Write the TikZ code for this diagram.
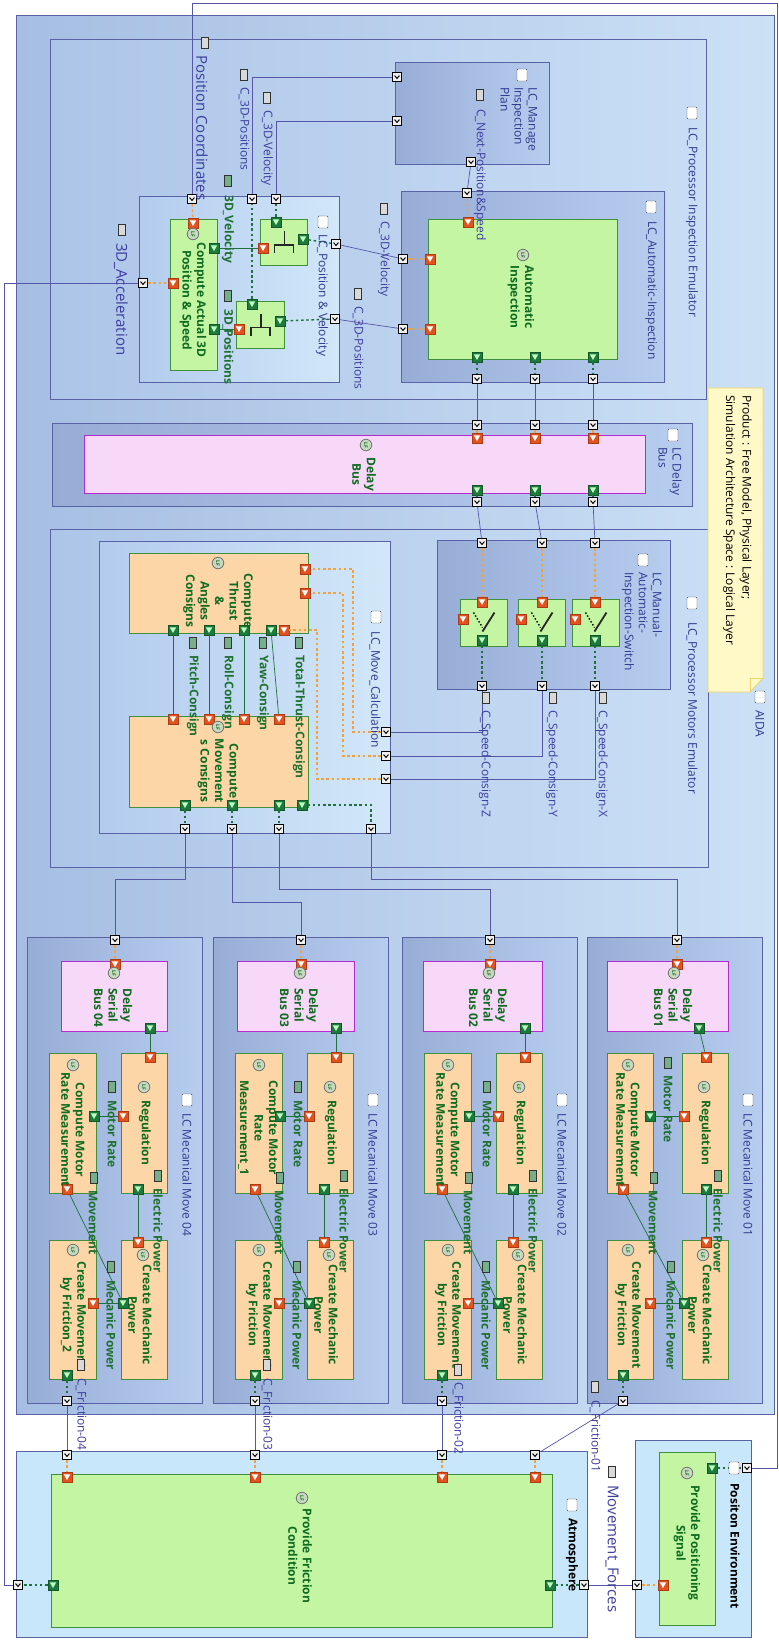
\documentclass[tikz,border=0pt]{standalone}
\usepackage{fontspec}
\setmainfont{Open Sans}
\usepackage{xcolor}
\usepackage{tikz}
\usetikzlibrary{positioning, fit}

\definecolor{aidaL}{HTML}{A6BEE2}
\definecolor{aidaR}{HTML}{CCE1F6}
\definecolor{procL}{HTML}{ADC5E8}
\definecolor{procR}{HTML}{C9DEF5}
\definecolor{lcL}{HTML}{98ADD6}
\definecolor{lcR}{HTML}{B7CDEF}
\definecolor{lightL}{HTML}{B3CCEE}
\definecolor{lightR}{HTML}{D2E7F9}
\definecolor{envFill}{HTML}{C9E7FA}
\definecolor{frameBlue}{HTML}{5A62A6}
\definecolor{fnGreen}{HTML}{C3F5A3}
\definecolor{fnOrange}{HTML}{FCD6A6}
\definecolor{fnPink}{HTML}{F7D8F9}
\definecolor{fnBorder}{HTML}{3F8F3F}
\definecolor{pinkBorder}{HTML}{B52ACF}
\definecolor{pinRed}{HTML}{E3521C}
\definecolor{pinGreen}{HTML}{1C7A3C}
\definecolor{lineBlue}{HTML}{5656A6}
\definecolor{dashOrange}{HTML}{F2A23A}
\definecolor{dashGreen}{HTML}{1F6F3F}
\definecolor{titleBlue}{HTML}{2F3A8F}
\definecolor{ceBlue}{HTML}{3D3DA0}
\definecolor{fnText}{HTML}{0F6B1F}
\definecolor{feText}{HTML}{1E7030}
\definecolor{noteFill}{HTML}{FFF9C8}
\definecolor{noteBorder}{HTML}{EFD46A}
\definecolor{lfFill}{HTML}{C9D9C0}

\tikzset{
  aidabox/.style={draw=frameBlue, line width=0.8pt, left color=aidaL, right color=aidaR, inner sep=0pt},
  procbox/.style={draw=frameBlue, line width=0.8pt, left color=procL, right color=procR, inner sep=0pt},
  lcbox/.style={draw=frameBlue, line width=0.8pt, left color=lcL, right color=lcR, inner sep=0pt},
  lclight/.style={draw=frameBlue, line width=0.8pt, left color=lightL, right color=lightR, inner sep=0pt},
  envbox/.style={draw=frameBlue, line width=0.8pt, fill=envFill, inner sep=0pt},
  fgreen/.style={draw=fnBorder, line width=0.8pt, fill=fnGreen, inner sep=0pt},
  forange/.style={draw=fnBorder, line width=0.8pt, fill=fnOrange, inner sep=0pt},
  fpink/.style={draw=pinkBorder, line width=0.8pt, fill=fnPink, inner sep=0pt},
  port/.style={draw=black, fill=black!6, line width=0.7pt, minimum size=9.5pt, inner sep=0pt,
    path picture={\draw[line width=1pt, shift={(path picture bounding box.center)}, rotate=#1]
      (-2.4pt,1.4pt) -- (0pt,-1.4pt) -- (2.4pt,1.4pt);}},
  port/.default=0,
  pinin/.style={draw=pinRed!75!black, line width=0.4pt, fill=pinRed, minimum size=10.5pt, inner sep=0pt,
    path picture={\fill[white, shift={(path picture bounding box.center)}, rotate=#1]
      (-3.2pt,2.6pt) -- (3.2pt,2.6pt) -- (0pt,-3pt) -- cycle;}},
  pinin/.default=0,
  pinout/.style={draw=pinGreen!70!black, line width=0.4pt, fill=pinGreen, minimum size=10.5pt, inner sep=0pt,
    path picture={\fill[green!25!white, shift={(path picture bounding box.center)}, rotate=#1]
      (-3.2pt,2.6pt) -- (3.2pt,2.6pt) -- (0pt,-3pt) -- cycle;}},
  pinout/.default=0,
  ce/.style={draw=lineBlue, line width=0.7pt},
  fe/.style={draw=dashGreen, line width=0.7pt},
  dashor/.style={draw=dashOrange, line width=1.4pt, dash pattern=on 2.6pt off 2.6pt},
  dashgr/.style={draw=dashGreen, line width=1.4pt, dash pattern=on 2.6pt off 2.6pt},
  cicon/.style={draw=black!70, fill=white, rounded corners=1pt, minimum width=10pt, minimum height=12pt, inner sep=0pt},
  ceicon/.style={draw=black!80, fill=black!15, minimum width=7pt, minimum height=11pt, inner sep=0pt},
  feicon/.style={draw=black!80, fill=pinGreen!60, minimum width=7pt, minimum height=11pt, inner sep=0pt},
  lf/.style={circle, draw=black!55, line width=0.8pt, fill=lfFill, minimum size=11.5pt, inner sep=0pt, rotate=-90,
    text=fnText, font=\bfseries\fontsize{5}{5}\selectfont},
  lctitle/.style={rotate=-90, anchor=west, inner sep=0pt, align=left, text=titleBlue,
    font=\fontsize{12}{14}\selectfont},
  celabel/.style={rotate=-90, anchor=west, inner sep=0pt, text=ceBlue, font=\fontsize{12}{14}\selectfont},
  biglabel/.style={rotate=-90, anchor=west, inner sep=0pt, text=ceBlue, font=\fontsize{15}{17}\selectfont},
  felabel/.style={rotate=-90, anchor=west, inner sep=0pt, text=feText, font=\bfseries\fontsize{12}{14}\selectfont},
  fntext/.style={rotate=-90, inner sep=0pt, align=center, text=fnText, font=\bfseries\fontsize{12}{14.5}\selectfont},
  envtitle/.style={rotate=-90, anchor=west, inner sep=0pt, font=\bfseries\fontsize{12}{14}\selectfont},
  symb/.style={line width=1.8pt, black!85}
}

\begin{document}
\begin{tikzpicture}[x=1pt, y=-1pt]
\path[use as bounding box, fill=white] (0,0) rectangle (779,1641);

% frames
\node[aidabox, fit={(16,15) (774,1414)}] (aida) {};
\node[procbox, fit={(50,39) (706,399)}] (pie) {};
\node[lclight, fit={(139,196) (339,382)}] (posvel) {};
\node[fgreen, fit={(170,219) (217,370)}] (fcomp) {};
\node[fgreen, fit={(260,219) (307,265)}] (muxv) {};
\node[fgreen, fit={(236,301) (284,348)}] (muxp) {};
\node[lcbox, fit={(395,62) (549,164)}] (manage) {};
\node[lcbox, fit={(401,191) (664,382)}] (autoins) {};
\node[fgreen, fit={(428,219) (617,359)}] (fautoins) {};
\node[lcbox, fit={(52,423) (692,506)}] (delaybus) {};
\node[fpink, fit={(84,435) (645,493)}] (fdelay) {};
\node[procbox, fit={(50,529) (708,867)}] (pme) {};
\node[lcbox, fit={(437,540) (670,689)}] (switchbox) {};
\node[fgreen, fit={(460,599) (507,646)}] (swz) {};
\node[fgreen, fit={(518,599) (565,646)}] (swy) {};
\node[fgreen, fit={(572,599) (619,646)}] (swx) {};
\node[lclight, fit={(99,541) (390,833)}] (movecalc) {};
\node[forange, fit={(129,553) (308,633)}] (fthrust) {};
\node[forange, fit={(129,716) (308,807)}] (fmovcons) {};

\draw[fill=noteFill, draw=noteBorder, line width=0.8pt] (708,388) -- (763,388) -- (763,678) -- (750,692) -- (708,692) -- cycle;
\draw[draw=noteBorder, line width=0.8pt] (750,692) -- (750,678) -- (763,678);

% mux and switch symbols
\draw[symb] ([shift={(1,-11)}]muxv.center) -- ([shift={(1,3)}]muxv.center)
  ([shift={(-9,11)}]muxv.center) |- ([shift={(10,3)}]muxv.center) -- ([shift={(10,11)}]muxv.center);
\draw[symb] ([shift={(1,-11)}]muxp.center) -- ([shift={(1,3)}]muxp.center)
  ([shift={(-9,11)}]muxp.center) |- ([shift={(10,3)}]muxp.center) -- ([shift={(10,11)}]muxp.center);
\draw[line width=1.4pt, dotted] ([shift={(-10,-10)}]swz.center) -- ([shift={(-1,5)}]swz.center);
\draw[symb] ([shift={(-1,9)}]swz.center) -- ([shift={(11,-10)}]swz.center);
\draw[line width=1.4pt, dotted] ([shift={(-10,-10)}]swy.center) -- ([shift={(-1,5)}]swy.center);
\draw[symb] ([shift={(-1,9)}]swy.center) -- ([shift={(11,-10)}]swy.center);
\draw[line width=1.4pt, dotted] ([shift={(-10,-10)}]swx.center) -- ([shift={(-1,5)}]swx.center);
\draw[symb] ([shift={(-1,9)}]swx.center) -- ([shift={(11,-10)}]swx.center);

% LC Mecanical Move 04
\node[lcbox, fit={(27,937) (202,1403)}] (mm4) {};
\node[fpink, fit={(61,961) (167,1031)}] (dsb4) {};
\node[forange, fit={(121,1053) (167,1193)}] (reg4) {};
\node[forange, fit={(49,1053) (96,1193)}] (cmr4) {};
\node[forange, fit={(121,1240) (167,1379)}] (cmp4) {};
\node[forange, fit={(49,1240) (96,1379)}] (cmf4) {};
% LC Mecanical Move 03
\node[lcbox, fit={(213,937) (388,1403)}] (mm3) {};
\node[fpink, fit={(237,961) (354,1031)}] (dsb3) {};
\node[forange, fit={(307,1053) (353,1193)}] (reg3) {};
\node[forange, fit={(235,1053) (282,1193)}] (cmr3) {};
\node[forange, fit={(307,1240) (353,1379)}] (cmp3) {};
\node[forange, fit={(235,1240) (282,1379)}] (cmf3) {};
% LC Mecanical Move 02
\node[lcbox, fit={(402,937) (577,1403)}] (mm2) {};
\node[fpink, fit={(423,961) (542,1031)}] (dsb2) {};
\node[forange, fit={(496,1053) (542,1193)}] (reg2) {};
\node[forange, fit={(424,1053) (471,1193)}] (cmr2) {};
\node[forange, fit={(496,1240) (542,1379)}] (cmp2) {};
\node[forange, fit={(424,1240) (471,1379)}] (cmf2) {};
% LC Mecanical Move 01
\node[lcbox, fit={(587,937) (762,1403)}] (mm1) {};
\node[fpink, fit={(607,961) (728,1031)}] (dsb1) {};
\node[forange, fit={(682,1053) (728,1193)}] (reg1) {};
\node[forange, fit={(607,1053) (653,1193)}] (cmr1) {};
\node[forange, fit={(682,1240) (728,1379)}] (cmp1) {};
\node[forange, fit={(607,1240) (653,1379)}] (cmf1) {};

% environment
\node[envbox, fit={(16,1451) (587,1637)}] (atmo) {};
\node[fgreen, fit={(51,1474) (552,1627)}] (fpfc) {};
\node[envbox, fit={(635,1440) (751,1637)}] (posenv) {};
\node[fgreen, fit={(659,1452) (715,1625)}] (fpps) {};

% ports and pins
\node[port] (pcp) at (192,199) {};
\node[port=90] (acp) at (143,283) {};
\node[port=180] (cpp) at (252,199) {};
\node[port=180] (cvp) at (276,199) {};
\node[port=90] (pvo1) at (336,244) {};
\node[port=90] (pvo2) at (335,319) {};
\node[port=90] (mgp1) at (397,77) {};
\node[port=90] (mgp2) at (397,121) {};
\node[port] (mgo) at (471,162) {};
\node[port] (aitop) at (467,193) {};
\node[port=90] (aip1) at (403,259) {};
\node[port=90] (aip2) at (403,329) {};
\node[pinin] (fcin1) at (193,223) {};
\node[pinin=90] (fcin2) at (173,283) {};
\node[pinout=90] (fcout1) at (214,248) {};
\node[pinout=90] (fcout2) at (214,329) {};
\node[pinin=90] (mvin) at (263,248) {};
\node[pinout=180] (mvup) at (276,222) {};
\node[pinout=90] (mvout) at (303,239) {};
\node[pinin=90] (mpin) at (239,329) {};
\node[pinout=180] (mpup) at (252,304) {};
\node[pinout=90] (mpout) at (280,321) {};
\node[pinin] (aiin0) at (468,222) {};
\node[pinin=90] (aiin1) at (430,259) {};
\node[pinin=90] (aiin2) at (430,329) {};
\node[pinout] (aiout1) at (477,357) {};
\node[pinout] (aiout2) at (535,357) {};
\node[pinout] (aiout3) at (593,357) {};
\node[port] (aio1) at (477,379) {};
\node[port] (aio2) at (535,379) {};
\node[port] (aio3) at (593,379) {};
\node[port] (dbp1) at (477,425) {};
\node[port] (dbp2) at (535,425) {};
\node[port] (dbp3) at (593,425) {};
\node[pinin] (dbin1) at (477,438) {};
\node[pinin] (dbin2) at (535,438) {};
\node[pinin] (dbin3) at (593,438) {};
\node[pinout] (dbout1) at (477,490) {};
\node[pinout] (dbout2) at (535,490) {};
\node[pinout] (dbout3) at (593,490) {};
\node[port] (dbq1) at (477,502) {};
\node[port] (dbq2) at (535,502) {};
\node[port] (dbq3) at (593,502) {};
\node[port] (swp1) at (482,543) {};
\node[port] (swp2) at (542,543) {};
\node[port] (swp3) at (595,543) {};
\node[pinin] (swzin) at (482,602) {};
\node[pinin] (swyin) at (542,602) {};
\node[pinin] (swxin) at (595,602) {};
\node[pinin=90] (swzside) at (463,619) {};
\node[pinin=90] (swyside) at (521,619) {};
\node[pinin=90] (swxside) at (575,619) {};
\node[pinout] (swzout) at (482,640) {};
\node[pinout] (swyout) at (542,640) {};
\node[pinout] (swxout) at (595,640) {};
\node[port] (swq1) at (482,686) {};
\node[port] (swq2) at (542,686) {};
\node[port] (swq3) at (595,686) {};
\node[port=-90] (mcp1) at (386,732) {};
\node[port=-90] (mcp2) at (386,756) {};
\node[port=-90] (mcp3) at (386,779) {};
\node[pinin=-90] (thin1) at (305,569) {};
\node[pinin=-90] (thin2) at (305,593) {};
\node[pinin=180] (thin3) at (284,630) {};
\node[pinout] (thout1) at (173,630) {};
\node[pinout] (thout2) at (209,630) {};
\node[pinout] (thout3) at (244,630) {};
\node[pinout] (thout4) at (271,630) {};
\node[pinin] (mcin1) at (173,719) {};
\node[pinin] (mcin2) at (209,719) {};
\node[pinin] (mcin3) at (244,719) {};
\node[pinin] (mcin4) at (279,719) {};
\node[pinout] (mcout1) at (185,805) {};
\node[pinout] (mcout2) at (232,805) {};
\node[pinout] (mcout3) at (279,805) {};
\node[pinout] (mcout4) at (302,805) {};
\node[port] (mcq1) at (185,829) {};
\node[port] (mcq2) at (232,829) {};
\node[port] (mcq3) at (279,829) {};
\node[port] (mcq4) at (371,829) {};

\node[port] (mmp4) at (115,940) {};
\node[pinin] (dsbi4) at (115,964) {};
\node[pinout] (dsbo4) at (150,1028) {};
\node[pinin] (regi4) at (150,1057) {};
\node[pinin=90] (regs4) at (123,1116) {};
\node[pinout=90] (cmro4) at (94,1116) {};
\node[pinin=180] (cmri4) at (67,1189) {};
\node[pinout] (rego4) at (138,1189) {};
\node[pinin] (cmpi4) at (138,1242) {};
\node[pinout=-90] (cmpo4) at (123,1303) {};
\node[pinin=-90] (cmfi4) at (93,1303) {};
\node[pinout] (cmfo4) at (67,1375) {};
\node[port] (mmq4) at (67,1401) {};

\node[port] (mmp3) at (301,940) {};
\node[pinin] (dsbi3) at (301,964) {};
\node[pinout] (dsbo3) at (336,1028) {};
\node[pinin] (regi3) at (336,1057) {};
\node[pinin=90] (regs3) at (309,1116) {};
\node[pinout=90] (cmro3) at (280,1116) {};
\node[pinin=180] (cmri3) at (255,1189) {};
\node[pinout] (rego3) at (324,1189) {};
\node[pinin] (cmpi3) at (324,1242) {};
\node[pinout=-90] (cmpo3) at (309,1303) {};
\node[pinin=-90] (cmfi3) at (279,1303) {};
\node[pinout] (cmfo3) at (255,1375) {};
\node[port] (mmq3) at (255,1401) {};

\node[port] (mmp2) at (490,940) {};
\node[pinin] (dsbi2) at (490,964) {};
\node[pinout] (dsbo2) at (525,1028) {};
\node[pinin] (regi2) at (525,1057) {};
\node[pinin=90] (regs2) at (498,1116) {};
\node[pinout=90] (cmro2) at (469,1116) {};
\node[pinin=180] (cmri2) at (442,1189) {};
\node[pinout] (rego2) at (513,1189) {};
\node[pinin] (cmpi2) at (513,1242) {};
\node[pinout=-90] (cmpo2) at (498,1303) {};
\node[pinin=-90] (cmfi2) at (468,1303) {};
\node[pinout] (cmfo2) at (442,1375) {};
\node[port] (mmq2) at (442,1401) {};

\node[port] (mmp1) at (677,940) {};
\node[pinin] (dsbi1) at (677,964) {};
\node[pinout] (dsbo1) at (699,1028) {};
\node[pinin] (regi1) at (706,1057) {};
\node[pinin=90] (regs1) at (684,1116) {};
\node[pinout=90] (cmro1) at (650,1116) {};
\node[pinin=180] (cmri1) at (623,1189) {};
\node[pinout] (rego1) at (706,1189) {};
\node[pinin] (cmpi1) at (706,1242) {};
\node[pinout=-90] (cmpo1) at (684,1303) {};
\node[pinin=-90] (cmfi1) at (650,1303) {};
\node[pinout] (cmfo1) at (623,1375) {};
\node[port] (mmq1) at (623,1401) {};

\node[port] (atp4) at (67,1455) {};
\node[port] (atp3) at (255,1455) {};
\node[port] (atp2) at (442,1455) {};
\node[port] (atp1) at (535,1455) {};
\node[pinin] (atin4) at (67,1477) {};
\node[pinin] (atin3) at (255,1477) {};
\node[pinin] (atin2) at (442,1477) {};
\node[pinin] (atin1) at (535,1477) {};
\node[pinout=-90] (atoL) at (53,1585) {};
\node[port=-90] (atpL) at (18,1585) {};
\node[pinout=90] (atoR) at (550,1585) {};
\node[port=90] (atpR) at (584,1585) {};
\node[port=90] (pep1) at (637,1585) {};
\node[pinin=90] (ppin) at (663,1585) {};
\node[pinout=90] (ppout) at (712,1468) {};
\node[port=90] (pep2) at (747,1468) {};

% exchanges
\draw[ce] (pep2) -| (777,3) -| (pcp);
\draw[ce] (acp) -| (4,1585) -- (atpL);
\draw[dashor] (pcp) -- (fcin1);
\draw[dashor] (acp) -- (fcin2);
\draw[fe] (fcout1) -- (mvin);
\draw[fe] (fcout2) -- (mpin);
\draw[dashgr] (mvup) -- (cvp);
\draw[dashgr] (mpup) -- (cpp);
\draw[dashgr] (mvout) -- (pvo1);
\draw[dashgr] (mpout) -- (pvo2);
\draw[ce] (pvo1) -- (aip1);
\draw[ce] (pvo2) -- (aip2);
\draw[dashor] (aip1) -- (aiin1);
\draw[dashor] (aip2) -- (aiin2);
\draw[ce] (cpp) |- (mgp1);
\draw[ce] (cvp) |- (mgp2);
\draw[ce] (mgo) -- (aitop);
\draw[dashor] (aitop) -- (aiin0);

\draw[dashgr] (aiout1) -- (aio1);
\draw[dashgr] (aiout2) -- (aio2);
\draw[dashgr] (aiout3) -- (aio3);
\draw[ce] (aio1) -- (dbp1);
\draw[ce] (aio2) -- (dbp2);
\draw[ce] (aio3) -- (dbp3);
\draw[dashor] (dbp1) -- (dbin1);
\draw[dashor] (dbp2) -- (dbin2);
\draw[dashor] (dbp3) -- (dbin3);
\draw[dashgr] (dbout1) -- (dbq1);
\draw[dashgr] (dbout2) -- (dbq2);
\draw[dashgr] (dbout3) -- (dbq3);
\draw[ce] (dbq1) -- (swp1);
\draw[ce] (dbq2) -- (swp2);
\draw[ce] (dbq3) -- (swp3);
\draw[dashor] (swp1) -- (swzin);
\draw[dashor] (swp2) -- (swyin);
\draw[dashor] (swp3) -- (swxin);
\draw[dashgr] (swzout) -- (swq1);
\draw[dashgr] (swyout) -- (swq2);
\draw[dashgr] (swxout) -- (swq3);
\draw[ce] (swq1) |- (mcp1);
\draw[ce] (swq2) |- (mcp2);
\draw[ce] (swq3) |- (mcp3);
\draw[dashor] (mcp1) -| (353,569) -- (thin1);
\draw[dashor] (mcp2) -| (343,593) -- (thin2);
\draw[dashor] (mcp3) -| (317,630) -- (thin3);
\draw[fe] (thout1) -- (mcin1);
\draw[fe] (thout2) -- (mcin2);
\draw[fe] (thout3) -- (mcin3);
\draw[fe] (thout4) -- (mcin4);
\draw[dashgr] (mcout1) -- (mcq1);
\draw[dashgr] (mcout2) -- (mcq2);
\draw[dashgr] (mcout3) -- (mcq3);
\draw[dashgr] (mcout4) -| (mcq4);
\draw[ce] (mcq1) |- (115,879) -- (mmp4);
\draw[ce] (mcq2) |- (301,902) -- (mmp3);
\draw[ce] (mcq3) |- (490,889) -- (mmp2);
\draw[ce] (mcq4) |- (677,879) -- (mmp1);

\draw[dashor] (mmp4) -- (dsbi4);
\draw[fe] (dsbo4) -- (regi4);
\draw[fe] (cmro4) -- (regs4);
\draw[fe] (rego4) -- (cmpi4);
\draw[fe] (cmpo4) -- (cmfi4);
\draw[fe] (cmpo4) -- (cmri4);
\draw[dashgr] (cmfo4) -- (mmq4);

\draw[dashor] (mmp3) -- (dsbi3);
\draw[fe] (dsbo3) -- (regi3);
\draw[fe] (cmro3) -- (regs3);
\draw[fe] (rego3) -- (cmpi3);
\draw[fe] (cmpo3) -- (cmfi3);
\draw[fe] (cmpo3) -- (cmri3);
\draw[dashgr] (cmfo3) -- (mmq3);

\draw[dashor] (mmp2) -- (dsbi2);
\draw[fe] (dsbo2) -- (regi2);
\draw[fe] (cmro2) -- (regs2);
\draw[fe] (rego2) -- (cmpi2);
\draw[fe] (cmpo2) -- (cmfi2);
\draw[fe] (cmpo2) -- (cmri2);
\draw[dashgr] (cmfo2) -- (mmq2);

\draw[dashor] (mmp1) -- (dsbi1);
\draw[fe] (dsbo1) -- (regi1);
\draw[fe] (cmro1) -- (regs1);
\draw[fe] (rego1) -- (cmpi1);
\draw[fe] (cmpo1) -- (cmfi1);
\draw[fe] (cmpo1) -- (cmri1);
\draw[dashgr] (cmfo1) -- (mmq1);

\draw[ce] (mmq4) -- (atp4);
\draw[ce] (mmq3) -- (atp3);
\draw[ce] (mmq2) -- (atp2);
\draw[ce] (mmq1) -- (atp1);
\draw[dashor] (atp4) -- (atin4);
\draw[dashor] (atp3) -- (atin3);
\draw[dashor] (atp2) -- (atin2);
\draw[dashor] (atp1) -- (atin1);
\draw[dashgr] (atoL) -- (atpL);
\draw[dashgr] (atoR) -- (atpR);
\draw[ce] (atpR) -- (pep1);
\draw[dashor] (pep1) -- (ppin);
\draw[dashgr] (ppout) -- (pep2);

% labels
\node[cicon] (icaida) at (760,697) {};
\node[lctitle] (laida) at (760,710) {AIDA};
\node[rotate=-90, anchor=north west, inner sep=0pt, align=left, font=\fontsize{12}{16.5}\selectfont] (notetext) at (752,395)
  {Product : Free Model, Physical Layer;\\Simulation Architecture Space : Logical Layer};
\node[cicon] (icpie) at (692,113) {};
\node[lctitle] (lpie) at (692,127) {LC\_Processor Inspection Emulator};
\node[cicon] (icpv) at (323,222) {};
\node[lctitle] (lpv) at (322,234) {LC\_Position \& Velocity};
\node[cicon] (icmg) at (522,75) {};
\node[lctitle] (lmg) at (519,87) {LC\_Manage\\Inspection\\Plan};
\node[cicon] (icai) at (651,207) {};
\node[lctitle] (lai) at (651,221) {LC\_Automatic-Inspection};
\node[ceicon] (ipc) at (205,43) {};
\node[biglabel] (lpc) at (202,55) {Position Coordinates};
\node[ceicon] (icpa) at (244,75) {};
\node[celabel] (lcpa) at (244,87) {C\_3D-Positions};
\node[ceicon] (icva) at (267,98) {};
\node[celabel] (lcva) at (267,110) {C\_3D-Velocity};
\node[feicon] (ivel) at (228,181) {};
\node[felabel] (lvel) at (228,195) {3D\_Velocity};
\node[feicon] (ipos) at (228,296) {};
\node[felabel] (lpos) at (228,309) {3D\_Positions};
\node[ceicon] (iacc) at (122,230) {};
\node[biglabel] (lacc) at (121,243) {3D\_Acceleration};
\node[ceicon] (icvb) at (384,209) {};
\node[celabel] (lcvb) at (384,221) {C\_3D-Velocity};
\node[ceicon] (icpb) at (358,294) {};
\node[celabel] (lcpb) at (358,306) {C\_3D-Positions};
\node[ceicon] (inps) at (480,95) {};
\node[celabel] (lnps) at (480,109) {C\_Next-Position\&Speed};
\node[lf] (lfcomp) at (193,234) {LF};
\node[fntext] (tcomp) at (193,300) {Compute Actual 3D\\Position \& Speed};
\node[lf] (lfai) at (523,255) {LF};
\node[fntext] (tai) at (521,297) {Automatic\\Inspection};

\node[cicon] (icdb) at (673,435) {};
\node[lctitle] (ldb) at (670,447) {LC Delay\\Bus};
\node[lf] (lfdb) at (366,445) {LF};
\node[fntext, anchor=west] (tdb) at (364,457) {Delay\\Bus};

\node[cicon] (icpme) at (692,603) {};
\node[lctitle] (lpme) at (692,622) {LC\_Processor Motors Emulator};
\node[cicon] (icsw) at (643,560) {};
\node[lctitle] (lsw) at (642,572) {LC\_Manual-\\Automatic-\\Inspection-Switch};
\node[ceicon] (isz) at (486,698) {};
\node[celabel] (lsz) at (485,710) {C\_Speed-Consign-Z};
\node[ceicon] (isy) at (553,698) {};
\node[celabel] (lsy) at (552,710) {C\_Speed-Consign-Y};
\node[ceicon] (isx) at (603,698) {};
\node[celabel] (lsx) at (602,710) {C\_Speed-Consign-X};
\node[cicon] (icmc) at (376,617) {};
\node[lctitle] (lmc) at (375,631) {LC\_Move\_Calculation};
\node[lf] (lfth) at (218,563) {LF};
\node[fntext] (tth) at (218,601) {Compute\\Thrust\\\&\\Angles\\Consigns};
\node[lf] (lfmc) at (218,727) {LF};
\node[fntext] (tmc) at (218,771) {Compute\\Movement\\s Consigns};
\node[feicon] (ipitch) at (193,643) {};
\node[felabel] (lpitch) at (193,655) {Pitch-Consign};
\node[feicon] (iroll) at (228,643) {};
\node[felabel] (lroll) at (228,655) {Roll-Consign};
\node[feicon] (iyaw) at (263,643) {};
\node[felabel] (lyaw) at (263,655) {Yaw-Consign};
\node[feicon] (itot) at (299,643) {};
\node[felabel] (ltot) at (299,655) {Total-Thrust-Consign};

% mecanical moves
\node[cicon] (ic4) at (187,1100) {};
\node[lctitle] (t4) at (187,1113) {LC Mecanical Move 04};
\node[lf] (lfd4) at (114,973) {LF};
\node[fntext, anchor=west, align=left] (td4) at (113,988) {Delay\\Serial\\Bus 04};
\node[lf] (lfr4) at (144,1087) {LF};
\node[fntext, anchor=west] (tr4) at (145,1100) {Regulation};
\node[lf] (lfm4) at (73,1065) {LF};
\node[fntext] (tm4) at (73,1130) {Compute Motor\\Rate Measurement};
\node[lf] (lfp4) at (143,1255) {LF};
\node[fntext] (tp4) at (140,1315) {Create Mechanic\\Power};
\node[lf] (lff4) at (73,1250) {LF};
\node[fntext] (tf4) at (73,1315) {Create Movement\\by Friction\_2};
\node[feicon] (imr4) at (112,1087) {};
\node[felabel] (lmr4) at (112,1100) {Motor Rate};
\node[feicon] (iep4) at (158,1176) {};
\node[felabel] (lep4) at (158,1188) {Electric Power};
\node[feicon] (imv4) at (94,1178) {};
\node[felabel] (lmv4) at (93,1190) {Movement};
\node[feicon] (imp4) at (111,1267) {};
\node[felabel] (lmp4) at (111,1280) {Mecanic Power};
\node[ceicon] (icf4) at (81,1365) {};
\node[celabel] (lcf4) at (81,1378) {C\_Friction-04};

\node[cicon] (ic3) at (373,1100) {};
\node[lctitle] (t3) at (373,1113) {LC Mecanical Move 03};
\node[lf] (lfd3) at (300,973) {LF};
\node[fntext, anchor=west, align=left] (td3) at (299,988) {Delay\\Serial\\Bus 03};
\node[lf] (lfr3) at (330,1087) {LF};
\node[fntext, anchor=west] (tr3) at (331,1100) {Regulation};
\node[lf] (lfm3) at (259,1065) {LF};
\node[fntext] (tm3) at (258,1128) {Compute Motor\\Rate\\Measurement\_1};
\node[lf] (lfp3) at (329,1255) {LF};
\node[fntext] (tp3) at (326,1315) {Create Mechanic\\Power};
\node[lf] (lff3) at (259,1250) {LF};
\node[fntext] (tf3) at (259,1315) {Create Movement\\by Friction};
\node[feicon] (imr3) at (298,1087) {};
\node[felabel] (lmr3) at (298,1100) {Motor Rate};
\node[feicon] (iep3) at (344,1176) {};
\node[felabel] (lep3) at (344,1188) {Electric Power};
\node[feicon] (imv3) at (280,1178) {};
\node[felabel] (lmv3) at (279,1190) {Movement};
\node[feicon] (imp3) at (297,1267) {};
\node[felabel] (lmp3) at (297,1280) {Mecanic Power};
\node[ceicon] (icf3) at (267,1365) {};
\node[celabel] (lcf3) at (267,1378) {C\_Friction-03};

\node[cicon] (ic2) at (562,1100) {};
\node[lctitle] (t2) at (562,1113) {LC Mecanical Move 02};
\node[lf] (lfd2) at (489,973) {LF};
\node[fntext, anchor=west, align=left] (td2) at (488,988) {Delay\\Serial\\Bus 02};
\node[lf] (lfr2) at (519,1087) {LF};
\node[fntext, anchor=west] (tr2) at (520,1100) {Regulation};
\node[lf] (lfm2) at (448,1065) {LF};
\node[fntext] (tm2) at (448,1130) {Compute Motor\\Rate Measurement};
\node[lf] (lfp2) at (518,1255) {LF};
\node[fntext] (tp2) at (515,1315) {Create Mechanic\\Power};
\node[lf] (lff2) at (448,1250) {LF};
\node[fntext] (tf2) at (448,1315) {Create Movement\\by Friction};
\node[feicon] (imr2) at (487,1087) {};
\node[felabel] (lmr2) at (487,1100) {Motor Rate};
\node[feicon] (iep2) at (533,1176) {};
\node[felabel] (lep2) at (533,1188) {Electric Power};
\node[feicon] (imv2) at (469,1178) {};
\node[felabel] (lmv2) at (468,1190) {Movement};
\node[feicon] (imp2) at (486,1267) {};
\node[felabel] (lmp2) at (486,1280) {Mecanic Power};
\node[ceicon] (icf2) at (458,1370) {};
\node[celabel] (lcf2) at (458,1382) {C\_Friction-02};

\node[cicon] (ic1) at (748,1100) {};
\node[lctitle] (t1) at (748,1113) {LC Mecanical Move 01};
\node[lf] (lfd1) at (674,973) {LF};
\node[fntext, anchor=west, align=left] (td1) at (673,988) {Delay\\Serial\\Bus 01};
\node[lf] (lfr1) at (704,1087) {LF};
\node[fntext, anchor=west] (tr1) at (705,1100) {Regulation};
\node[lf] (lfm1) at (628,1065) {LF};
\node[fntext] (tm1) at (628,1130) {Compute Motor\\Rate Measurement};
\node[lf] (lfp1) at (703,1255) {LF};
\node[fntext] (tp1) at (700,1315) {Create Mechanic\\Power};
\node[lf] (lff1) at (628,1250) {LF};
\node[fntext] (tf1) at (628,1315) {Create Movement\\by Friction};
\node[feicon] (imr1) at (668,1063) {};
\node[felabel] (lmr1) at (668,1075) {Motor Rate};
\node[feicon] (iep1) at (718,1176) {};
\node[felabel] (lep1) at (718,1188) {Electric Power};
\node[feicon] (imv1) at (654,1178) {};
\node[felabel] (lmv1) at (653,1190) {Movement};
\node[feicon] (imp1) at (671,1267) {};
\node[felabel] (lmp1) at (671,1280) {Mecanic Power};
\node[ceicon] (icf1) at (595,1387) {};
\node[celabel] (lcf1) at (595,1400) {C\_Friction-01};

% environment labels
\node[cicon] (icat) at (572,1505) {};
\node[envtitle] (lat) at (572,1518) {Atmosphere};
\node[lf] (lfpf) at (302,1498) {LF};
\node[fntext] (tpf) at (300,1556) {Provide Friction\\Condition};
\node[ceicon] (imf) at (612,1472) {};
\node[biglabel] (lmf) at (612,1485) {Movement\_Forces};
\node[cicon] (icpe) at (734,1468) {};
\node[envtitle] (lpe) at (735,1483) {Positon Environment};
\node[lf] (lfpp) at (687,1473) {LF};
\node[fntext] (tpp) at (687,1543) {Provide Positioning\\Signal};
\end{tikzpicture}
\end{document}
